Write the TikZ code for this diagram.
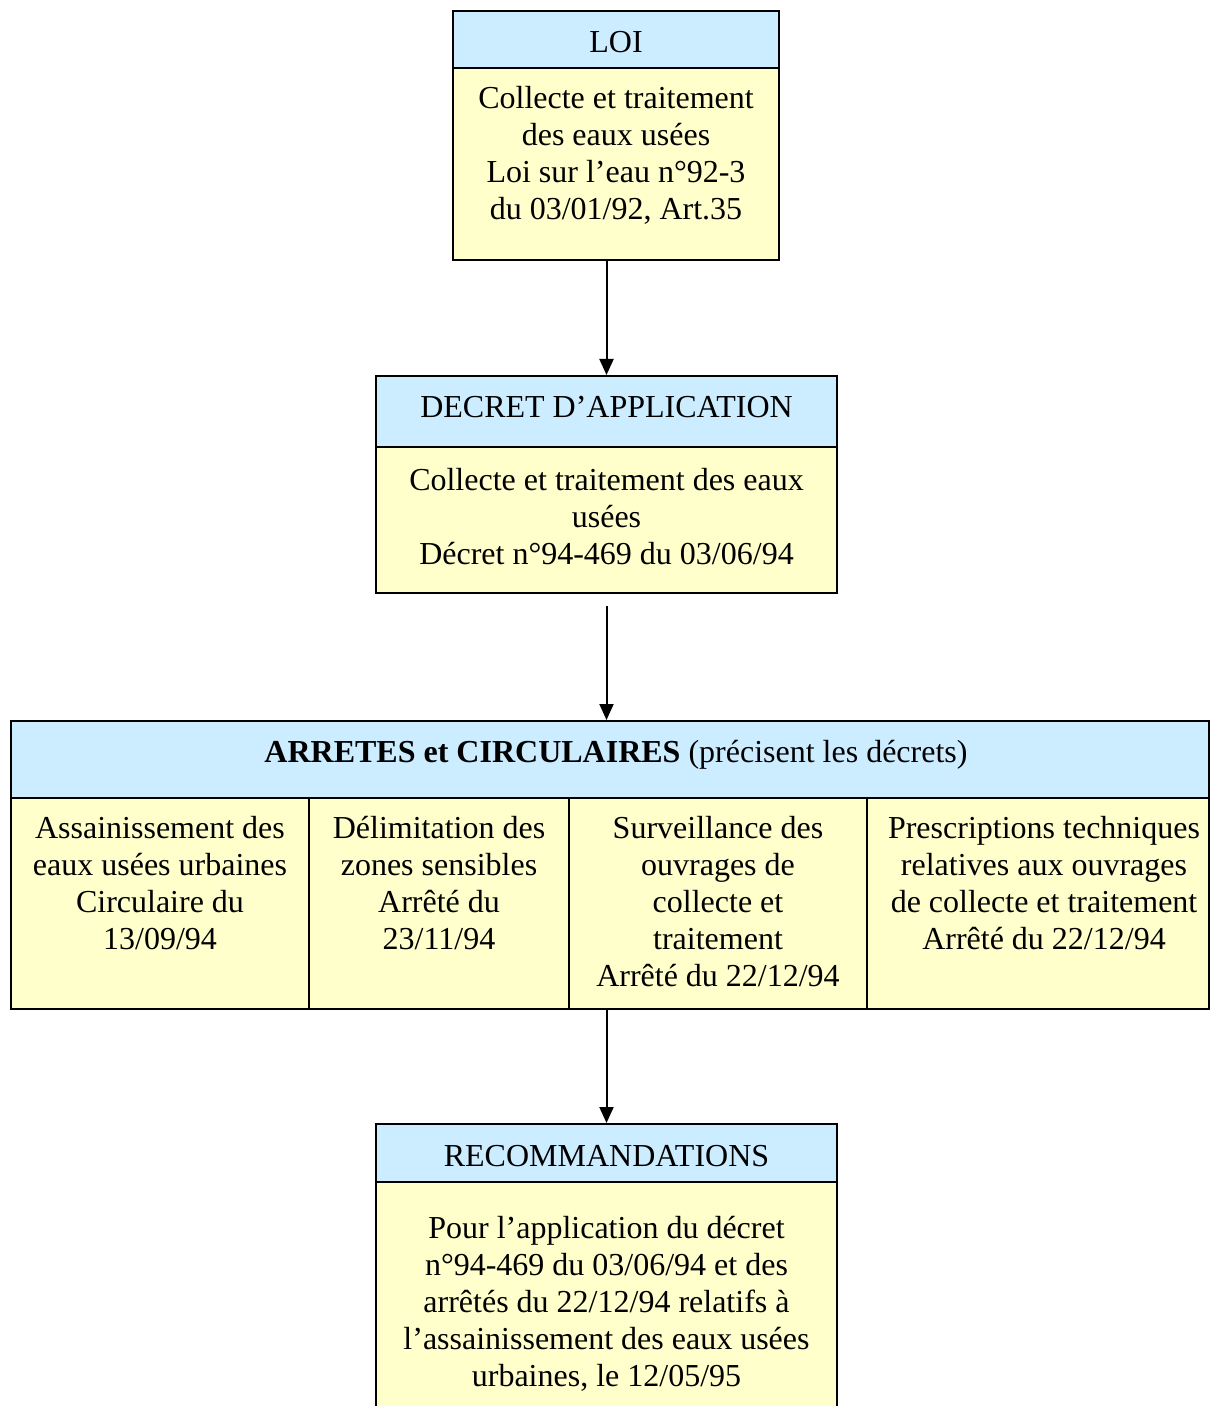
\documentclass[tikz,border=0pt]{standalone}
\usepackage{fontspec}
\setmainfont{Liberation Serif}
\usetikzlibrary{fit,arrows.meta}
\definecolor{headblue}{HTML}{CCECFF}
\definecolor{bodyyellow}{HTML}{FFFFCC}
\begin{document}
\begin{tikzpicture}[x=0.5pt,y=-0.5pt,
  every node/.style={font=\fontsize{16}{18.5}\selectfont},
  head/.style={draw=black,line width=1pt,fill=headblue,inner sep=0pt},
  body/.style={draw=black,line width=1pt,fill=bodyyellow,inner sep=0pt},
  txt/.style={align=center,inner sep=0pt},
  arr/.style={line width=1pt,-{Triangle[length=8pt,width=7pt]}}]
\useasboundingbox (0,0) rectangle (1210,1406);
\clip (0,0) rectangle (1210,1406);

% LOI
\node[body,fit={(453,68) (779,260)}] (loibody) {};
\node[head,fit={(453,11) (779,68)}] (loihead) {};
\node[txt] (loititle) at (616,42) {LOI};
\node[txt] (loitext) at (616,155) {Collecte et traitement\\des eaux usées\\Loi sur l’eau n°92-3\\du 03/01/92, Art.35};

% DECRET D'APPLICATION
\node[body,fit={(376,447) (837,593)}] (decbody) {};
\node[head,fit={(376,376) (837,447)}] (dechead) {};
\node[txt] (dectitle) at (606.5,407) {DECRET D’APPLICATION};
\node[txt] (dectext) at (606.5,517) {Collecte et traitement des eaux\\usées\\Décret n°94-469 du 03/06/94};

% ARRETES et CIRCULAIRES
\node[body,fit={(11,798) (1209,1009)}] (arrbody) {};
\node[head,fit={(11,721) (1209,798)}] (arrhead) {};
\node[txt] (arrtitle) at (616,755) {\textbf{ARRETES et CIRCULAIRES} (précisent les décrets)};
\draw[line width=1pt] (309,798) -- (309,1009) (569,798) -- (569,1009) (867,798) -- (867,1009);
\node[txt,anchor=north] (col1) at (160,816) {Assainissement des\\eaux usées urbaines\\Circulaire du\\13/09/94};
\node[txt,anchor=north] (col2) at (439,816) {Délimitation des\\zones sensibles\\Arrêté du\\23/11/94};
\node[txt,anchor=north] (col3) at (718,816) {Surveillance des\\ouvrages de\\collecte et\\traitement\\Arrêté du 22/12/94};
\node[txt,anchor=north] (col4) at (1044,816) {Prescriptions techniques\\relatives aux ouvrages\\de collecte et traitement\\Arrêté du 22/12/94};

% RECOMMANDATIONS
\node[body,fit={(376,1182) (837,1430)}] (recobody) {};
\node[head,fit={(376,1124) (837,1182)}] (recohead) {};
\node[txt] (recotitle) at (606.5,1156) {RECOMMANDATIONS};
\node[txt,anchor=north] (recotext) at (606.5,1216) {Pour l’application du décret\\n°94-469 du 03/06/94 et des\\arrêtés du 22/12/94 relatifs à\\l’assainissement des eaux usées\\urbaines, le 12/05/95};

% connectors
\draw[arr] (loibody.south -| dechead.north) -- (dechead.north);
\draw[arr] ([yshift=-6pt]decbody.south) -- (decbody.south |- arrhead.north);
\draw[arr] (arrbody.south -| recohead.north) -- (recohead.north);
\end{tikzpicture}
\end{document}
